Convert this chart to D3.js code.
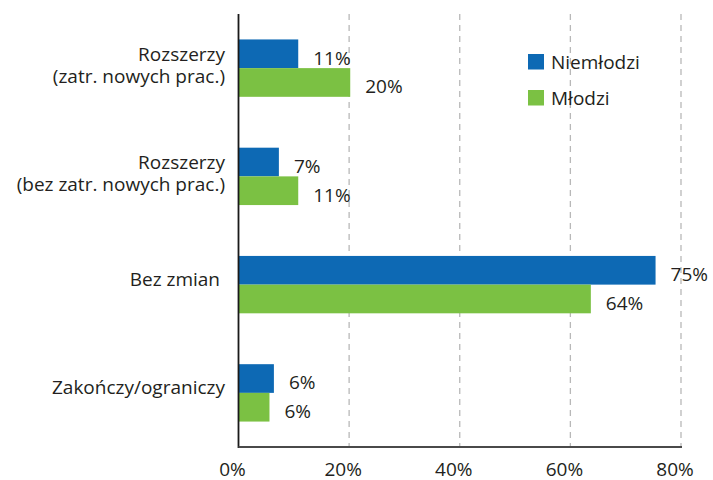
<!DOCTYPE html>
<html>
<head>
<meta charset="utf-8">
<script src="https://cdn.jsdelivr.net/npm/d3@7"></script>
<style>
  html, body { margin: 0; padding: 0; background: #fff; }
  svg { display: block; }
  text { font-family: "Open Sans", "Noto Sans", sans-serif; fill: #231f20; }
</style>
</head>
<body>
<svg id="chart" width="713" height="480"></svg>
<script>
// ---- data ----
const categories = [
  ["Rozszerzy", "(zatr. nowych prac.)"],
  ["Rozszerzy", "(bez zatr. nowych prac.)"],
  ["Bez zmian"],
  ["Zakończy/ograniczy"]
];
const seriesNames = ["Niemłodzi", "Młodzi"];
const niemlodziValues = [10.8, 7.3, 75.4, 6.4];
const mlodziValues = [20.2, 10.8, 63.7, 5.6];
const niemlodziLabels = ["11%", "7%", "75%", "6%"];
const mlodziLabels = ["20%", "11%", "64%", "6%"];
const xTicks = [0, 20, 40, 60, 80];
const colors = ["#0d69b4", "#7bc143"];

const FS = 19;
const svg = d3.select("#chart");
const mLeft = 238.5, mRight = 681, mTop = 14, mBottom = 447;

const x = d3.scaleLinear().domain([0, 80]).range([mLeft, mRight]);
const catIdx = d3.range(categories.length);
const y = d3.scaleBand().domain(catIdx).range([mTop, mBottom]).paddingInner(0.47).paddingOuter(0.235);
const ySub = d3.scaleBand().domain([0, 1]).range([0, y.bandwidth()]);

// grid lines (dashed)
svg.append("g").selectAll("line").data(xTicks.filter(d => d > 0)).join("line")
  .attr("x1", d => x(d)).attr("x2", d => x(d))
  .attr("y1", mTop).attr("y2", mBottom)
  .attr("stroke", "#b8b8b8").attr("stroke-width", 1.3)
  .attr("stroke-dasharray", "6,5");

// bars
const series = [niemlodziValues, mlodziValues];
const labels = [niemlodziLabels, mlodziLabels];
series.forEach((vals, s) => {
  const g = svg.append("g");
  g.selectAll("rect").data(vals).join("rect")
    .attr("x", x(0))
    .attr("y", (d, i) => y(i) + ySub(s))
    .attr("width", d => x(d) - x(0))
    .attr("height", ySub.bandwidth())
    .attr("fill", colors[s]);
  g.selectAll("text").data(vals).join("text")
    .attr("x", d => x(d) + 15)
    .attr("y", (d, i) => y(i) + ySub(s) + ySub.bandwidth() - 3.5)
    .attr("font-size", FS)
    .text((d, i) => labels[s][i]);
});

// axes lines
svg.append("line").attr("x1", mLeft).attr("x2", mLeft).attr("y1", mTop).attr("y2", mBottom + 1)
  .attr("stroke", "#1a1a1a").attr("stroke-width", 1.8);
svg.append("line").attr("x1", mLeft).attr("x2", mRight + 1).attr("y1", mBottom).attr("y2", mBottom)
  .attr("stroke", "#4a4a4a").attr("stroke-width", 1.8);

// x tick labels
svg.append("g").selectAll("text").data(xTicks).join("text")
  .attr("x", d => x(d) - 6)
  .attr("y", 475.5)
  .attr("text-anchor", "middle")
  .attr("font-size", FS)
  .text(d => d + "%");

// category labels
catIdx.forEach(i => {
  const lines = categories[i];
  const cy = y(i) + y.bandwidth() / 2;
  const lh = 21.5;
  const startBase = lines.length === 1 ? cy + 1.5 : cy - 7;
  lines.forEach((ln, k) => {
    svg.append("text")
      .attr("text-anchor", "end")
      .attr("font-size", FS)
      .attr("x", lines.length === 1 && i === 2 ? 220 : 225)
      .attr("y", startBase + k * lh).text(ln);
  });
});

// legend
const legend = svg.append("g");
seriesNames.forEach((name, s) => {
  legend.append("rect").attr("x", 528).attr("y", 54 + s * 36).attr("width", 16).attr("height", 15.5)
    .attr("fill", colors[s]);
  legend.append("text").attr("x", 551).attr("y", 69 + s * 36).attr("font-size", FS).text(name);
});
</script>
</body>
</html>
